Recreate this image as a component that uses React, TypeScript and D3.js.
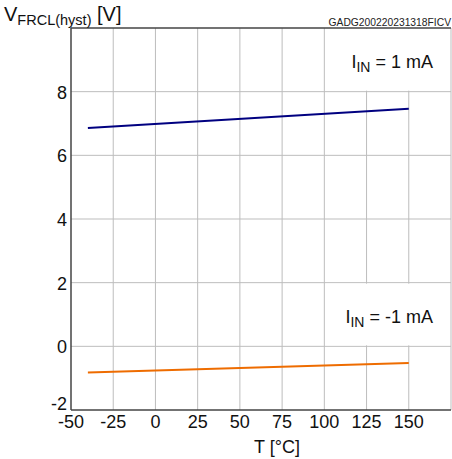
import { useEffect, useRef } from "react";
import * as d3 from "d3";

// temperature points (°C)
const temps = [-40, 150];
// V_FRCL(hyst) for I_IN = 1 mA
const vPos = [6.86, 7.46];
// V_FRCL(hyst) for I_IN = -1 mA
const vNeg = [-0.82, -0.52];

const xTicks = [-50, -25, 0, 25, 50, 75, 100, 125, 150];
const yTicks = [-2, 0, 2, 4, 6, 8];

const W = 452, H = 459;
const margin = { top: 28, right: 1, bottom: 49, left: 71 };

export default function App() {
  const ref = useRef<SVGSVGElement>(null);

  useEffect(() => {
    const svg = d3.select(ref.current);
    svg.selectAll("*").remove();
    const font = "'Liberation Sans', Arial, sans-serif";

    const x = d3.scaleLinear().domain([-50, 175]).range([margin.left, W - margin.right]);
    const y = d3.scaleLinear().domain([-2, 10]).range([H - margin.bottom, margin.top]);

    const g = svg.append("g");

    // vertical grid
    g.selectAll("line.vg")
      .data(d3.range(-25, 176, 25))
      .enter()
      .append("line")
      .attr("x1", (d) => x(d)).attr("x2", (d) => x(d))
      .attr("y1", y(-2)).attr("y2", y(10))
      .attr("stroke", "#bdbdbd").attr("stroke-width", 1);

    // horizontal grid
    g.selectAll("line.hg")
      .data(yTicks.slice(1))
      .enter()
      .append("line")
      .attr("x1", x(-50)).attr("x2", x(175))
      .attr("y1", (d) => y(d)).attr("y2", (d) => y(d))
      .attr("stroke", "#bdbdbd").attr("stroke-width", 1);

    // legend boxes cover the grid
    const boxes = [
      { y0: 10, y1: 8, label: "1 mA", ty: 8.9 },
      { y0: 2, y1: 0, label: "-1 mA", ty: 0.9 },
    ];
    boxes.forEach((b) => {
      g.append("rect")
        .attr("x", x(100) + 1).attr("y", y(b.y0) + 1)
        .attr("width", x(175) - x(100) - 2).attr("height", y(b.y1) - y(b.y0) - 2)
        .attr("fill", "white");
      const t = g.append("text")
        .attr("x", x(175) - 18).attr("y", y(b.ty) + 5)
        .attr("text-anchor", "end")
        .attr("font-family", font).attr("font-size", 18).attr("fill", "#111");
      t.append("tspan").text("I");
      t.append("tspan").attr("font-size", 14).attr("dy", 4).text("IN");
      t.append("tspan").attr("dy", -4).text(" = " + b.label);
    });

    // axes frame
    g.append("line")
      .attr("x1", x(-50)).attr("x2", x(175)).attr("y1", y(10)).attr("y2", y(10))
      .attr("stroke", "#444").attr("stroke-width", 1.5);
    g.append("line")
      .attr("x1", x(-50)).attr("x2", x(175)).attr("y1", y(-2)).attr("y2", y(-2))
      .attr("stroke", "#444").attr("stroke-width", 1.5);
    g.append("line")
      .attr("x1", x(-50)).attr("x2", x(-50)).attr("y1", y(-2)).attr("y2", y(10))
      .attr("stroke", "#444").attr("stroke-width", 1.5);

    // data lines
    const line = d3.line<number>()
      .x((_, i) => x(temps[i]))
      .y((d) => y(d));
    g.append("path").attr("d", line(vPos)).attr("fill", "none")
      .attr("stroke", "#000080").attr("stroke-width", 2);
    g.append("path").attr("d", line(vNeg)).attr("fill", "none")
      .attr("stroke", "#ee6c00").attr("stroke-width", 2);

    // tick labels
    g.selectAll("text.xt")
      .data(xTicks)
      .enter()
      .append("text")
      .attr("x", (d) => x(d)).attr("y", y(-2) + 18)
      .attr("text-anchor", "middle")
      .attr("font-family", font).attr("font-size", 18).attr("fill", "#111")
      .text((d) => d);
    g.selectAll("text.yt")
      .data(yTicks)
      .enter()
      .append("text")
      .attr("x", x(-50) - 4).attr("y", (d) => y(d) + (d === -2 ? 0 : 7))
      .attr("text-anchor", "end")
      .attr("font-family", font).attr("font-size", 18).attr("fill", "#111")
      .text((d) => d);

    // axis titles
    g.append("text")
      .attr("x", (x(-50) + x(175)) / 2 + 16).attr("y", H - 6)
      .attr("text-anchor", "middle")
      .attr("font-family", font).attr("font-size", 18).attr("fill", "#111")
      .text("T [°C]");
    const yt = g.append("text")
      .attr("x", 4).attr("y", 21)
      .attr("font-family", font).attr("font-size", 20).attr("fill", "#111");
    yt.append("tspan").text("V");
    yt.append("tspan").attr("font-size", 14.5).attr("dy", 4).text("FRCL(hyst)");
    yt.append("tspan").attr("dy", -4).text(" [V]");

    g.append("text")
      .attr("x", W - 1).attr("y", 26)
      .attr("text-anchor", "end")
      .attr("font-family", font).attr("font-size", 10.3).attr("fill", "#222")
      .text("GADG200220231318FICV");
  }, []);

  return (
    <svg ref={ref} width={W} height={H} style={{ position: "absolute", left: 0, top: 0, background: "white" }} />
  );
}
